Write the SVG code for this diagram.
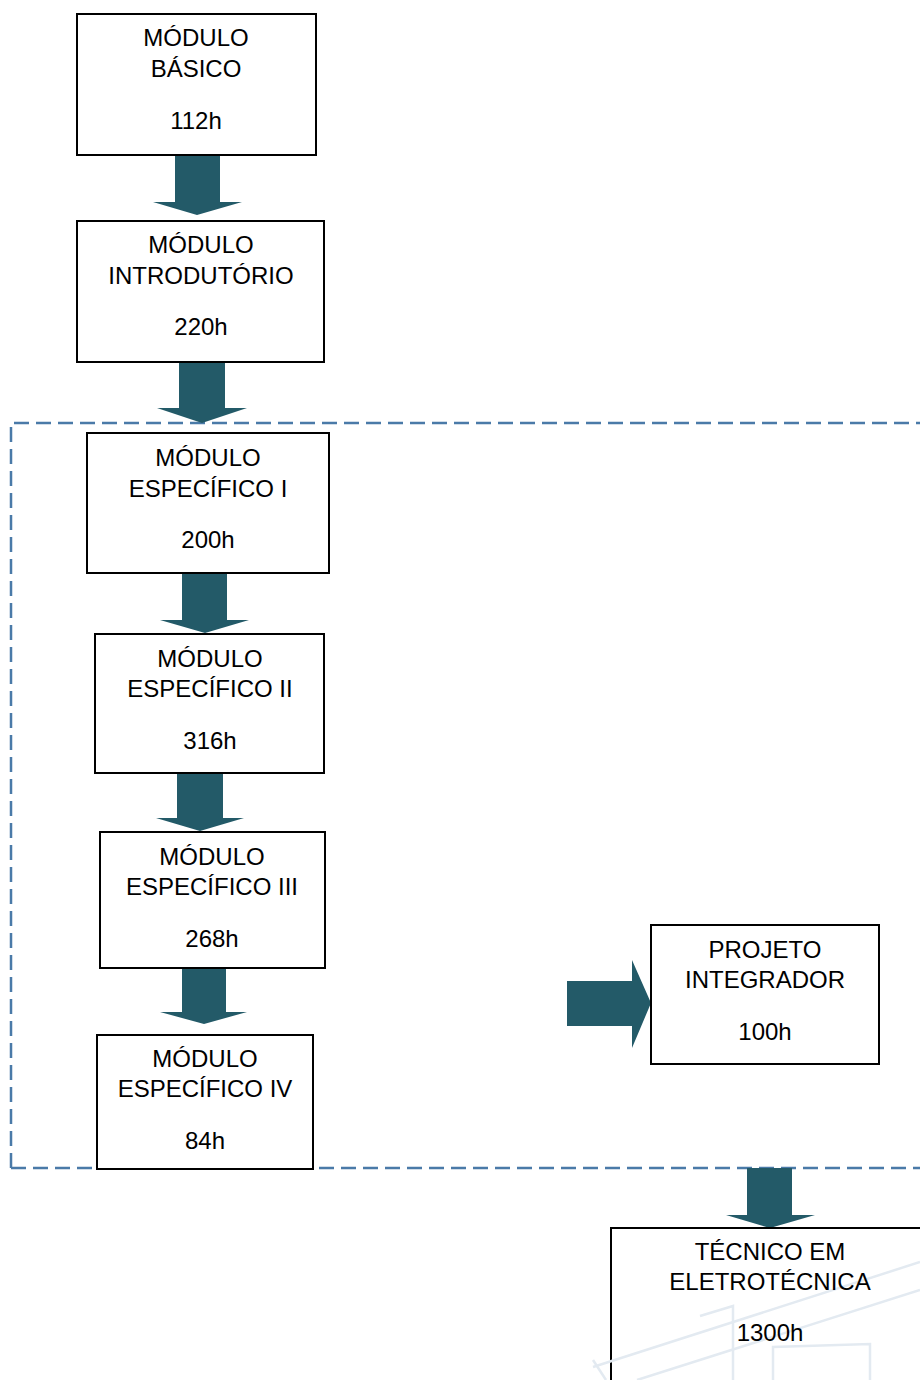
<svg xmlns="http://www.w3.org/2000/svg" width="920" height="1380" viewBox="0 0 920 1380">
<style>
.box{fill:#fff;stroke:#000;stroke-width:2}
.t{font-family:"Liberation Sans",Arial,sans-serif;font-size:24px;fill:#000;text-anchor:middle}
.arr{fill:#235a68}
.wm{fill:none;stroke:#e3eaf1;stroke-width:2.5}
</style>
<rect width="920" height="1380" fill="#fff"/>
<g id="group-boundary">
<path d="M11 1168 L11 423 L920 423 M11 1168 L920 1168" fill="none" stroke="#4a7aa8" stroke-width="2.5" stroke-dasharray="15 7"/>
</g>
<g id="connectors">
<path class="arr" d="M175 155 H220 V202 H242 L197 215 L153 202 H175 Z"/>
<path class="arr" d="M179 362 H225 V408 H247 L202 423 L157 408 H179 Z"/>
<path class="arr" d="M182 573 H227 V620 H249 L205 633 L160 620 H182 Z"/>
<path class="arr" d="M177 773 H223 V818 H244 L200 831 L156 818 H177 Z"/>
<path class="arr" d="M182 968 H226 V1012 H247 L204 1024 L160 1012 H182 Z"/>
<path class="arr" d="M567 981 H632 V960 L651 1003 L632 1048 V1026 H567 Z"/>
<path class="arr" d="M747 1168 H792 V1215 H815 L770 1228 L726 1215 H747 Z"/>
</g>
<g id="node-basico">
<rect class="box" x="77" y="14" width="239" height="141"/>
<text class="t" x="196" y="46">MÓDULO</text>
<text class="t" x="196" y="77">BÁSICO</text>
<text class="t" x="196" y="129">112h</text>
</g>
<g id="node-introdutorio">
<rect class="box" x="77" y="221" width="247" height="141"/>
<text class="t" x="201" y="253">MÓDULO</text>
<text class="t" x="201" y="284">INTRODUTÓRIO</text>
<text class="t" x="201" y="335">220h</text>
</g>
<g id="node-especifico-1">
<rect class="box" x="87" y="433" width="242" height="140"/>
<text class="t" x="208" y="466">MÓDULO</text>
<text class="t" x="208" y="497">ESPECÍFICO I</text>
<text class="t" x="208" y="548">200h</text>
</g>
<g id="node-especifico-2">
<rect class="box" x="95" y="634" width="229" height="139"/>
<text class="t" x="210" y="667">MÓDULO</text>
<text class="t" x="210" y="697">ESPECÍFICO II</text>
<text class="t" x="210" y="749">316h</text>
</g>
<g id="node-especifico-3">
<rect class="box" x="100" y="832" width="225" height="136"/>
<text class="t" x="212" y="865">MÓDULO</text>
<text class="t" x="212" y="895">ESPECÍFICO III</text>
<text class="t" x="212" y="947">268h</text>
</g>
<g id="node-especifico-4">
<rect class="box" x="97" y="1035" width="216" height="134"/>
<text class="t" x="205" y="1067">MÓDULO</text>
<text class="t" x="205" y="1097">ESPECÍFICO IV</text>
<text class="t" x="205" y="1149">84h</text>
</g>
<g id="node-projeto">
<rect class="box" x="651" y="925" width="228" height="139"/>
<text class="t" x="765" y="958">PROJETO</text>
<text class="t" x="765" y="988">INTEGRADOR</text>
<text class="t" x="765" y="1040">100h</text>
</g>
<g id="node-tecnico">
<rect class="box" x="611" y="1228" width="320" height="170"/>
<g id="watermark">
<path class="wm" d="M593 1367 L920 1262"/>
<path class="wm" d="M637 1380 L920 1290"/>
<path class="wm" d="M733 1380 L733 1306 L700 1316"/>
<path class="wm" d="M773 1380 L773 1347 L870 1344 L870 1380"/>
<path class="wm" d="M593 1360 L606 1380"/>
</g>
<text class="t" x="770" y="1260">TÉCNICO EM</text>
<text class="t" x="770" y="1290">ELETROTÉCNICA</text>
<text class="t" x="770" y="1341">1300h</text>
</g>
</svg>
